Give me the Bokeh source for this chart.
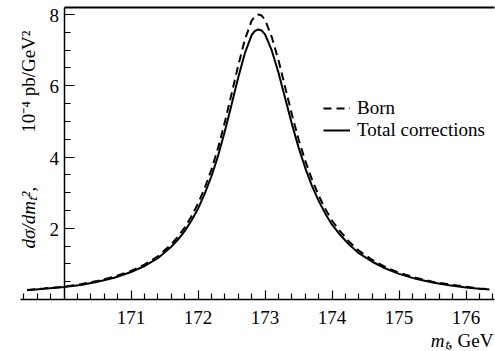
import math
from bokeh.plotting import figure
from bokeh.models import (Range1d, LinearAxis, FixedTicker, Label, LabelSet, Legend,
                          LegendItem, ColumnDataSource, CustomLabelingPolicy)
from bokeh.embed import file_html
from bokeh.resources import INLINE

# top-quark mass, GeV
mt = [169.45, 169.7, 170.0, 170.25, 170.5, 170.75, 171.0, 171.2, 171.4, 171.6,
      171.7, 171.8, 171.9, 172.0, 172.1, 172.2, 172.3, 172.4, 172.5, 172.6,
      172.7, 172.8, 172.85, 172.9, 172.95, 173.0, 173.1, 173.2, 173.3, 173.4,
      173.5, 173.6, 173.7, 173.8, 173.9, 174.0, 174.1, 174.25, 174.4, 174.6,
      174.8, 175.0, 175.25, 175.5, 175.75, 176.0, 176.2, 176.35]
# dsigma/dm_t^2, 10^-4 pb/GeV^2
total = [0.26, 0.30, 0.35, 0.41, 0.50, 0.61, 0.77, 0.94, 1.16, 1.48,
         1.68, 1.92, 2.21, 2.55, 2.97, 3.46, 4.04, 4.72, 5.47, 6.23,
         6.92, 7.42, 7.54, 7.58, 7.55, 7.44, 6.99, 6.37, 5.65, 4.93,
         4.27, 3.69, 3.19, 2.77, 2.41, 2.10, 1.86, 1.55, 1.30, 1.06,
         0.87, 0.72, 0.58, 0.48, 0.40, 0.34, 0.30, 0.28]
born = [0.27, 0.31, 0.36, 0.43, 0.52, 0.64, 0.80, 0.98, 1.21, 1.55,
        1.76, 2.02, 2.33, 2.69, 3.13, 3.65, 4.26, 4.98, 5.77, 6.57,
        7.30, 7.83, 7.95, 8.00, 7.97, 7.85, 7.37, 6.72, 5.96, 5.20,
        4.50, 3.89, 3.37, 2.92, 2.54, 2.21, 1.96, 1.63, 1.37, 1.11,
        0.91, 0.75, 0.61, 0.50, 0.42, 0.36, 0.31, 0.29]

x_major = [171, 172, 173, 174, 175, 176]
x_minor = [round(169.4 + 0.2 * i, 1) for i in range(36)
           if abs((169.4 + 0.2 * i) - round(169.4 + 0.2 * i)) > 1e-6]
y_major = [2, 4, 6, 8]
y_tick_labels = ["2", "4", "6", "8"]
y_minor = [0.5, 1.0, 1.5, 2.5, 3.0, 3.5, 4.5, 5.0, 5.5, 6.5, 7.0, 7.5]

FONT = "'Liberation Serif', 'Times New Roman', serif"
FS = "19px"
# axis extents (data units)
AX_X0, AX_X1 = 169.35, 176.43
AX_Y_AT = 170
AX_YTOP = 8.197
# whole canvas is the frame: 67 px per GeV, 35.625 px per unit
X0, X1 = 169.0515, 176.4396
Y0, Y1 = -1.4596, 8.3930

p = figure(width=495, height=351, x_range=Range1d(X0, X1), y_range=Range1d(Y0, Y1),
           output_backend="svg", toolbar_location=None,
           x_axis_type=None, y_axis_type=None, min_border=0)
p.outline_line_color = None
p.background_fill_color = "white"
p.border_fill_color = "white"

xa = LinearAxis(fixed_location=0, bounds=(AX_X0, AX_X1),
                ticker=FixedTicker(ticks=x_major, minor_ticks=x_minor),
                axis_line_width=1.5, axis_line_color="black",
                major_tick_in=9, major_tick_out=0, minor_tick_in=6, minor_tick_out=0,
                major_tick_line_width=1.2, minor_tick_line_width=1.2,
                major_label_text_font=FONT, major_label_text_font_size=FS,
                major_label_standoff=11, major_label_text_color="black")
p.add_layout(xa, "below")

# y axis line and ticks; its tick labels are drawn by the LabelSet below
no_labels = CustomLabelingPolicy(code="for (const i of indices) { if (false) yield i }")
ya = LinearAxis(fixed_location=AX_Y_AT, bounds=(0, AX_YTOP),
                ticker=FixedTicker(ticks=y_major, minor_ticks=y_minor),
                axis_line_width=1.5, axis_line_color="black",
                major_tick_in=10, major_tick_out=0, minor_tick_in=6, minor_tick_out=0,
                major_tick_line_width=1.2, minor_tick_line_width=1.2,
                major_label_policy=no_labels,
                major_label_text_font=FONT, major_label_text_font_size=FS)
p.add_layout(ya, "left")

# y tick labels placed through the data scales next to the axis line
ylab_src = ColumnDataSource(dict(x=[AX_Y_AT] * len(y_major), y=y_major, t=y_tick_labels))
p.add_layout(LabelSet(x="x", y="y", text="t", source=ylab_src, x_offset=-5, y_offset=-1,
                      text_align="right", text_baseline="middle",
                      text_font=FONT, text_font_size=FS, text_color="black"))

ta = LinearAxis(fixed_location=AX_YTOP, ticker=FixedTicker(ticks=[]), bounds=(AX_Y_AT, AX_X1),
                axis_line_width=2, axis_line_color="black",
                major_tick_in=0, major_tick_out=0, minor_tick_in=0, minor_tick_out=0,
                major_label_policy=no_labels)
p.add_layout(ta, "above")

rb = p.line(mt, born, line_color="black", line_width=2, line_dash="8 5")
rt = p.line(mt, total, line_color="black", line_width=2)

legend = Legend(items=[LegendItem(label="Born", renderers=[rb]),
                       LegendItem(label="Total corrections", renderers=[rt])],
                location=(323, 210), border_line_color=None, background_fill_alpha=0,
                padding=0, margin=0, spacing=0, glyph_width=27, glyph_height=20,
                label_standoff=7, label_height=20,
                label_text_font=FONT, label_text_font_size=FS, label_text_color="black")
p.add_layout(legend)

# y axis title (screen units from the canvas bottom-left)
p.add_layout(Label(x=28, y=103, x_units="screen", y_units="screen", text="dσ/dmₜ²,",
                   angle=math.pi / 2, text_align="left", text_baseline="alphabetic",
                   text_font=FONT, text_font_size=FS, text_font_style="italic",
                   text_color="black"))
p.add_layout(Label(x=28, y=321, x_units="screen", y_units="screen", text="10⁻⁴ pb/GeV²",
                   angle=math.pi / 2, text_align="right", text_baseline="alphabetic",
                   text_font=FONT, text_font_size=FS, text_color="black"))
# x axis title
p.add_layout(Label(x=448, y=11, x_units="screen", y_units="screen", text="mₜ",
                   text_align="right", text_baseline="alphabetic",
                   text_font=FONT, text_font_size=FS, text_font_style="italic",
                   text_color="black"))
p.add_layout(Label(x=493, y=11, x_units="screen", y_units="screen", text=", GeV",
                   text_align="right", text_baseline="alphabetic",
                   text_font=FONT, text_font_size=FS, text_color="black"))

open("out.html", "w").write(file_html(p, INLINE))
